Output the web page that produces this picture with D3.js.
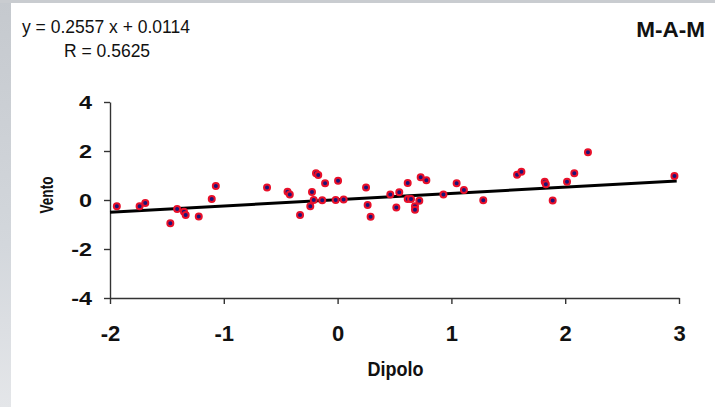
<!DOCTYPE html>
<html>
<head>
<meta charset="utf-8">
<script src="https://cdn.jsdelivr.net/npm/d3@7"></script>
<style>
  html, body { margin: 0; padding: 0; background: #fff; }
  svg { display: block; font-family: "Liberation Sans", Arial, sans-serif; }
</style>
</head>
<body>
<svg id="chart" width="715" height="407"></svg>
<script>
// values
const dipolo = [
  -1.94, -1.74, -1.69, -1.47, -1.41, -1.35, -1.335, -1.22, -1.106, -1.07,
  -0.62, -0.44, -0.42, -0.33, -0.24, -0.225, -0.21, -0.19, -0.17, -0.135, -0.11, -0.017, 0.004, 0.053, 0.25, 0.264, 0.29,
  0.463, 0.516, 0.542, 0.616, 0.616, 0.645, 0.68, 0.68, 0.718, 0.73, 0.78, 0.93, 1.046, 1.11, 1.28, 1.577, 1.615,
  1.82, 1.83, 1.89, 2.016, 2.08, 2.20, 2.96
];
const vento = [
  -0.26, -0.26, -0.12, -0.95, -0.37, -0.48, -0.61, -0.67, 0.04, 0.57,
  0.51, 0.34, 0.22, -0.61, -0.26, 0.33, 0.0, 1.09, 1.02, -0.01, 0.68, 0.0, 0.79, 0.02, 0.51, -0.2, -0.68,
  0.22, -0.31, 0.32, 0.69, 0.04, 0.04, -0.26, -0.4, -0.03, 0.93, 0.81, 0.22, 0.68, 0.41, -0.01, 1.03, 1.15,
  0.75, 0.64, -0.02, 0.75, 1.09, 1.95, 0.98
];
const xTicks = [-2, -1, 0, 1, 2, 3];
const yTicks = [-4, -2, 0, 2, 4];
const SLOPE = 0.2557;
const INTERCEPT = 0.0114;
const TREND_X = [-2, 2.98];
const EQUATION = "y = 0.2557 x + 0.0114";
const R_LABEL = "R = 0.5625";
const TITLE = "M-A-M";

const svg = d3.select("#chart");

// background: grey frame strip at the left and top like the slide behind the chart
const defs = svg.append("defs");
const grad = defs.append("linearGradient").attr("id", "side").attr("x1", 0).attr("x2", 0).attr("y1", 0).attr("y2", 1);
grad.append("stop").attr("offset", "0%").attr("stop-color", "#c5c9ce");
grad.append("stop").attr("offset", "60%").attr("stop-color", "#d3d7dc");
grad.append("stop").attr("offset", "100%").attr("stop-color", "#e4e6e9");
svg.append("rect").attr("width", 715).attr("height", 407).attr("fill", "#fff");
svg.append("rect").attr("x", 0).attr("y", 0).attr("width", 11).attr("height", 407).attr("fill", "url(#side)");
svg.append("rect").attr("x", 0).attr("y", 0).attr("width", 715).attr("height", 3).attr("fill", "#c9ccd0");

const x = d3.scaleLinear().domain([-2, 3]).range([110, 679]);
const y = d3.scaleLinear().domain([-4, 4]).range([298, 102]);

// y axis
const yAxis = svg.append("g")
  .attr("transform", `translate(${x(-2)},0)`)
  .call(d3.axisLeft(y).tickValues(yTicks).tickSize(6).tickSizeOuter(0).tickFormat(d3.format("d")));
yAxis.select(".domain").attr("stroke", "#333").attr("stroke-width", 1.4);
yAxis.selectAll(".tick line").attr("stroke", "#333").attr("stroke-width", 1.4);
yAxis.selectAll(".tick text")
  .attr("font-family", "Liberation Sans, Arial, sans-serif")
  .attr("font-weight", 700)
  .attr("font-size", 18)
  .attr("fill", "#111")
  .attr("x", -18 / 1.3)
  .attr("dy", "0.36em")
  .attr("transform", "scale(1.3,1)")
  .text((d) => d3.format("d")(d).replace("−", "-"));

// x axis
const xAxis = svg.append("g")
  .attr("transform", `translate(0,${y(-4)})`)
  .call(d3.axisBottom(x).tickValues(xTicks).tickSize(6).tickSizeOuter(0));
xAxis.select(".domain").attr("stroke", "#333").attr("stroke-width", 1.4);
xAxis.selectAll(".tick line").attr("stroke", "#333").attr("stroke-width", 1.4);
xAxis.selectAll(".tick text")
  .attr("font-family", "Liberation Sans, Arial, sans-serif")
  .attr("font-weight", 700)
  .attr("font-size", 22)
  .attr("fill", "#111")
  .attr("y", 0)
  .attr("dy", 0)
  .attr("transform", "translate(0,43)")
  .text((d) => d3.format("d")(d).replace("−", "-"));

// trend line
svg.append("line")
  .attr("x1", x(TREND_X[0]))
  .attr("y1", y(SLOPE * TREND_X[0] + INTERCEPT))
  .attr("x2", x(TREND_X[1]))
  .attr("y2", y(SLOPE * TREND_X[1] + INTERCEPT))
  .attr("stroke", "#000")
  .attr("stroke-width", 3);

// points
svg.append("g")
  .selectAll("circle")
  .data(dipolo.map((d, i) => ({ x: d, y: vento[i] })))
  .join("circle")
  .attr("cx", (d) => x(d.x))
  .attr("cy", (d) => y(d.y))
  .attr("r", 3)
  .attr("fill", "#1c1478")
  .attr("stroke", "#e8102a")
  .attr("stroke-width", 2);

// labels
svg.append("text")
  .attr("x", 395.5)
  .attr("y", 376)
  .attr("text-anchor", "middle")
  .attr("font-weight", 700)
  .attr("font-size", 20)
  .attr("textLength", 56)
  .attr("lengthAdjust", "spacingAndGlyphs")
  .attr("fill", "#111")
  .text("Dipolo");

svg.append("text")
  .attr("transform", "translate(53,195) rotate(-90)")
  .attr("text-anchor", "middle")
  .attr("font-weight", 700)
  .attr("font-size", 18)
  .attr("textLength", 37)
  .attr("lengthAdjust", "spacingAndGlyphs")
  .attr("fill", "#111")
  .text("Vento");

svg.append("text")
  .attr("x", 22)
  .attr("y", 33)
  .attr("font-size", 17.5)
  .attr("fill", "#111")
  .text(EQUATION);

svg.append("text")
  .attr("x", 64)
  .attr("y", 57)
  .attr("font-size", 17.5)
  .attr("fill", "#111")
  .text(R_LABEL);

svg.append("text")
  .attr("x", 705)
  .attr("y", 37)
  .attr("text-anchor", "end")
  .attr("font-weight", 700)
  .attr("font-size", 22.5)
  .attr("fill", "#111")
  .text(TITLE);
</script>
</body>
</html>
